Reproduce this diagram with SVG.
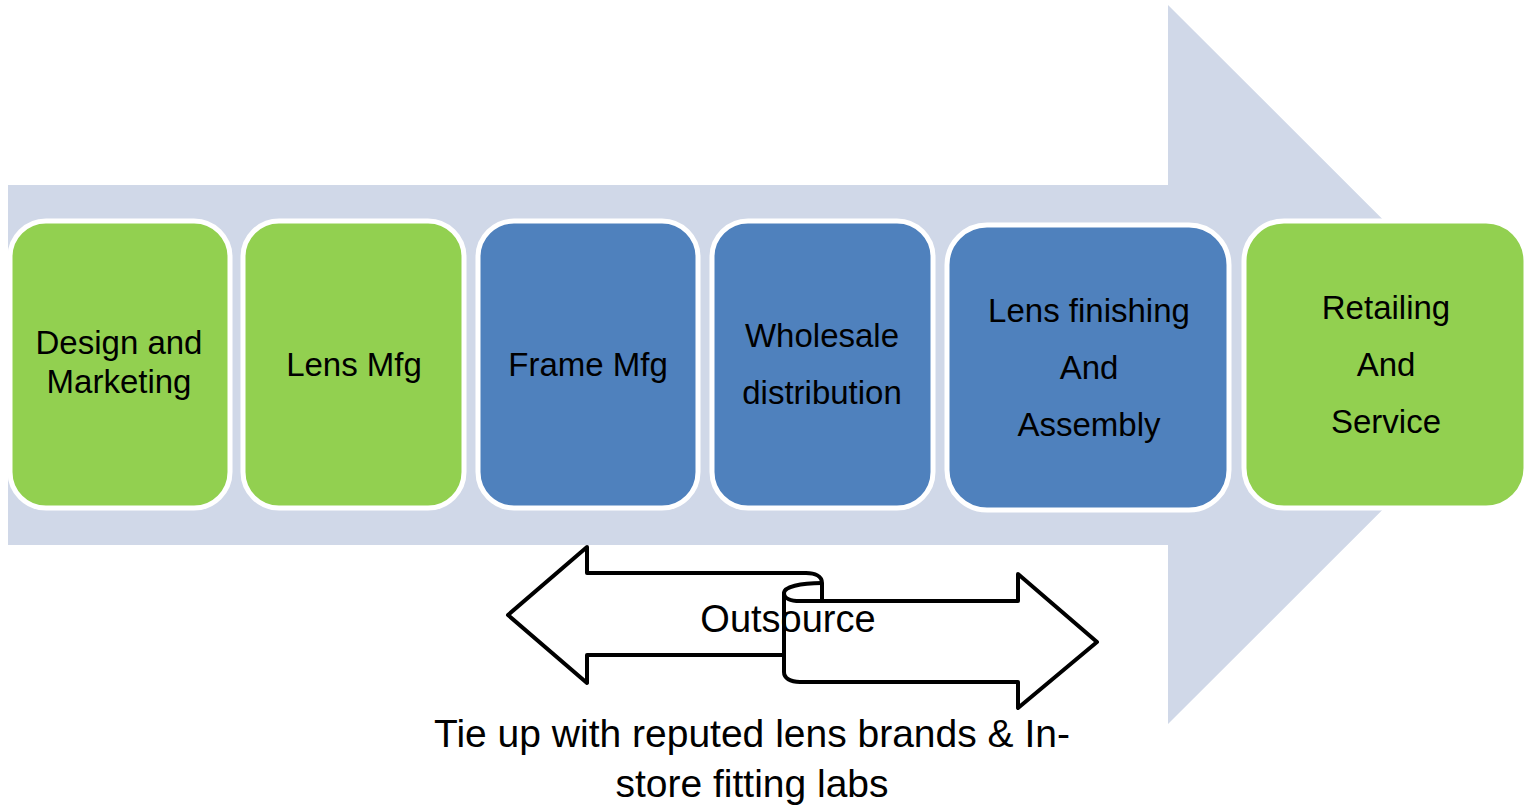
<svg xmlns="http://www.w3.org/2000/svg" width="1525" height="805" viewBox="0 0 1525 805">
<style>
.bg{fill:#D0D8E8}
.g{fill:#92D050;stroke:#fff;stroke-width:5}
.b{fill:#4F81BD;stroke:#fff;stroke-width:5}
.t{font-family:"Liberation Sans",Arial,sans-serif;font-size:33px;fill:#000;text-anchor:middle}
.big{font-family:"Liberation Sans",Arial,sans-serif;font-size:38px;fill:#000;text-anchor:middle}
.cap{font-family:"Liberation Sans",Arial,sans-serif;font-size:39px;fill:#000;text-anchor:middle}
.ol{fill:#fff;stroke:#000;stroke-width:4;stroke-linejoin:round}
</style>
<rect width="1525" height="805" fill="#fff"/>
<polygon id="flow" class="bg" points="8,185 1168,185 1168,5 1528,364.5 1168,724 1168,545 8,545"/>
<g id="n1"><rect class="g" x="10" y="221" width="220" height="287" rx="36"/><text class="t" x="119" y="354">Design and</text><text class="t" x="119" y="393">Marketing</text></g>
<g id="n2"><rect class="g" x="243" y="221" width="221" height="287" rx="36"/><text class="t" x="354" y="376">Lens Mfg</text></g>
<g id="n3"><rect class="b" x="478" y="221" width="220" height="287" rx="36"/><text class="t" x="588" y="376">Frame Mfg</text></g>
<g id="n4"><rect class="b" x="712" y="221" width="221" height="287" rx="36"/><text class="t" x="822" y="347">Wholesale</text><text class="t" x="822" y="404">distribution</text></g>
<g id="n5"><rect class="b" x="947" y="225" width="282" height="285" rx="40"/><text class="t" x="1089" y="322">Lens finishing</text><text class="t" x="1089" y="379">And</text><text class="t" x="1089" y="436">Assembly</text></g>
<g id="n6"><rect class="g" x="1244" y="221" width="282" height="287" rx="40"/><text class="t" x="1386" y="319">Retailing</text><text class="t" x="1386" y="376">And</text><text class="t" x="1386" y="433">Service</text></g>
<g id="outsource">
<path class="ol" d="M822,601 L822,583 C822,576 815,573 806,573 L587,573 L587,547 L508,615 L587,683 L587,655 L784,655"/>
<path class="ol" d="M784,593 C784,598 790,601 800,601 L1018,601 L1018,574 L1097,642 L1018,708 L1018,682 L800,682 C790,682 784,678 784,672 Z"/>
<path class="ol" fill="none" d="M784,593 C784,587 800,583 822,583"/>
<text class="big" x="788" y="632">Outsource</text>
</g>
<g id="caption">
<text class="cap" x="752" y="747">Tie up with reputed lens brands &amp; In-</text>
<text class="cap" x="752" y="797">store fitting labs</text>
</g>
</svg>
